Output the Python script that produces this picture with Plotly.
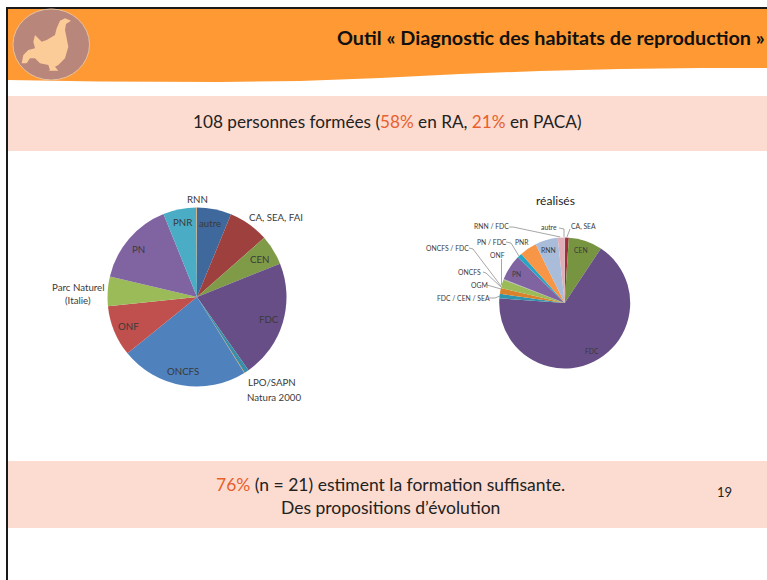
import plotly.graph_objects as go

W, H = 767, 580

# --- data -----------------------------------------------------------------
left_labels = ["autre", "CA, SEA, FAI", "CEN", "FDC", "LPO/SAPN", "Natura 2000",
               "ONCFS", "ONF", "Parc Naturel (Italie)", "PN", "PNR", "RNN"]
left_values = [6.2, 7.3, 5.4, 21.3, 0.8, 0.1, 23.0, 9.2, 5.3, 15.2, 6.0, 0.1]
left_colors = ["#3f689c", "#9e413e", "#7f9b48", "#674e87", "#3a8fa8", "#d9822b",
               "#4f81bd", "#c0504d", "#9bbb59", "#8064a2", "#4bacc6", "#f79646"]

right_labels = ["autre", "CA, SEA", "CEN", "FDC", "FDC / CEN / SEA", "OGM", "ONCFS",
                "ONCFS / FDC", "ONF", "PN", "PN / FDC", "PNR", "RNN", "RNN / FDC"]
right_values = [0.1, 0.9, 8.3, 66.7, 1.1, 1.4, 2.1, 0.1, 0.1, 6.3, 1.2, 4.2, 5.6, 1.7]
right_colors = ["#7f7f7f", "#9e2f3a", "#779440", "#674e87", "#2f94ad", "#d9822b", "#9bbb59",
                "#b0b0b0", "#a5a5a5", "#8064a2", "#2aa5c4", "#f79646", "#a9bddb", "#e0aeb6"]

FONT = "Lato"
INK = "#3a3a3a"
ACCENT = "#e8602c"


def px(x):
    return x / W


def py(y):
    return 1 - y / H


def domain(cx, cy, r):
    return dict(x=[px(cx - r), px(cx + r)], y=[py(cy + r), py(cy - r)])


fig = go.Figure()
fig.add_trace(go.Pie(labels=left_labels, values=left_values, sort=False, direction="clockwise",
                     rotation=0, textinfo="none", domain=domain(197, 297, 89.5),
                     marker=dict(colors=left_colors, line=dict(width=0)), showlegend=False))
fig.add_trace(go.Pie(labels=right_labels, values=right_values, sort=False, direction="clockwise",
                     rotation=0, textinfo="none", domain=domain(564.7, 303, 65.5),
                     marker=dict(colors=right_colors, line=dict(width=0)), showlegend=False))


def rect(x0, y0, x1, y1, color):
    return dict(type="rect", xref="paper", yref="paper", x0=px(x0), x1=px(x1), y0=py(y1), y1=py(y0),
                fillcolor=color, line=dict(width=0), layer="below")


def path(points, fill=None, line=None, close=False):
    d = "M " + " L ".join(f"{px(x):.5f},{py(y):.5f}" for x, y in points) + (" Z" if close else "")
    s = dict(type="path", xref="paper", yref="paper", path=d, layer="below", line=line or dict(width=0))
    if fill:
        s["fillcolor"] = fill
    return s


band = [(8, 9), (767, 9), (767, 68), (700, 68), (620, 69), (540, 71), (460, 74), (380, 78), (300, 81),
        (220, 82), (100, 81.5), (8, 80)]
rooster_crop = [(213, 62), (195, 55), (180, 62), (170, 85), (165, 105), (140, 120), (125, 125), (105, 105),
                (100, 125), (105, 145), (85, 150), (70, 165), (65, 190), (80, 190), (90, 175), (105, 175),
                (120, 190), (145, 195), (150, 210), (145, 212), (175, 212), (165, 200), (175, 195), (195, 175),
                (205, 140), (200, 115), (195, 90), (198, 72)]
rooster = [(x / 3, y / 3) for x, y in rooster_crop]
grey = dict(color="#8f8f8f", width=0.8)
leaders = [
    [(509, 227), (513, 227), (560.3, 237)],
    [(559, 228), (564, 229), (564, 237)],
    [(570, 229), (567, 237)],
    [(506, 242), (511, 243), (519, 256)],
    [(501.5, 259), (501.5, 285)],
    [(469, 248), (473, 249), (501, 286)],
    [(483, 272), (486, 273), (501, 287)],
    [(487, 285), (501, 289)],
    [(489, 298), (495, 298), (500, 296)],
]

shapes = [
    rect(0, 0, W, H, "#ffffff"),
    path(band, fill="#ff9933"),
    rect(8, 96, W, 151, "#fcdcd0"),
    rect(8, 461, W, 528, "#fcdcd0"),
    rect(6, 7, W, 9, "#1a1a1a"),
    rect(6, 7, 8, H, "#1a1a1a"),
    dict(type="circle", xref="paper", yref="paper", x0=px(13), x1=px(89.5), y0=py(80), y1=py(9),
         fillcolor="#b8867b", line=dict(color="#e5c2a0", width=1), layer="below"),
    path(rooster, fill="#fbcb98", close=True),
] + [path(p, line=grey) for p in leaders]


def note(x, y, text, size, color=INK, bold=False, anchor="center"):
    return dict(xref="paper", yref="paper", x=px(x), y=py(y), text=text, showarrow=False, xanchor=anchor,
                yanchor="middle", font=dict(family=FONT, size=size, color=color, weight="bold" if bold else "normal"))


def hot(t):
    return f'<span style="color:{ACCENT}">{t}</span>'


S1, S2 = 9.7, 6.8
notes = [
    note(767, 37, "Outil « Diagnostic des habitats de reproduction »", 19.8, "#111111", True, "right"),
    note(387.5, 121, f"108 personnes formées ({hot('58%')} en RA, {hot('21%')} en PACA)", 17.2, "#222222"),
    note(391, 484, f"{hot('76%')} (n = 21) estiment la formation suffisante.", 17.5, "#222222"),
    note(391, 507, "Des propositions d’évolution", 17.5, "#222222"),
    note(724, 492, "19", 13, "#222222"),
    note(197, 199, "RNN", S1), note(210, 223, "autre", S1), note(276, 217, "CA, SEA, FAI", S1),
    note(259, 259, "CEN", S1), note(269, 319, "FDC", S1), note(272, 382, "LPO/SAPN", S1),
    note(274, 397, "Natura 2000", S1), note(183, 371, "ONCFS", S1), note(128, 326, "ONF", S1),
    note(78, 287, "Parc Naturel", S1), note(78, 300, "(Italie)", S1), note(138, 249, "PN", S1),
    note(183, 222, "PNR", S1),
    note(555, 200, "réalisés", 12, "#222222"),
    note(583, 227, "CA, SEA", S2), note(549, 227, "autre", S2), note(491, 226, "RNN / FDC", S2),
    note(492, 242, "PN / FDC", S2), note(522, 242, "PNR", S2), note(448, 248, "ONCFS / FDC", S2),
    note(497, 255, "ONF", S2), note(469, 272, "ONCFS", S2), note(479, 285, "OGM", S2),
    note(463, 298, "FDC / CEN / SEA", S2), note(548, 250, "RNN", S2), note(581, 250, "CEN", S2),
    note(516, 274, "PN", S2), note(592, 351, "FDC", S2),
]

fig.update_layout(width=W, height=H, margin=dict(l=0, r=0, t=0, b=0), paper_bgcolor="#ffffff",
                  plot_bgcolor="#ffffff", shapes=shapes, annotations=notes, showlegend=False,
                  font=dict(family=FONT))
fig.write_html("out.html", config=dict(displayModeBar=False),
               post_script="document.body.style.margin='0';document.documentElement.style.overflow='hidden';")
